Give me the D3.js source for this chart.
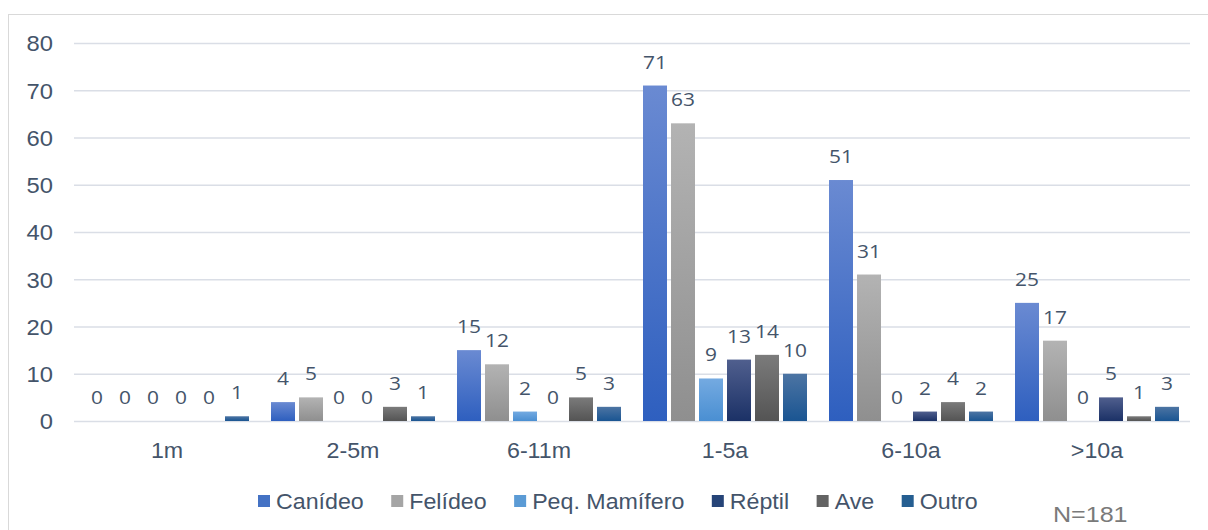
<!DOCTYPE html>
<html><head><meta charset="utf-8">
<script src="https://cdn.jsdelivr.net/npm/d3@7"></script>
<style>body{margin:0;background:#fff}svg{display:block}</style>
</head><body>
<script>
const categories = ["1m","2-5m","6-11m","1-5a","6-10a",">10a"];
const seriesNames = ["Canídeo","Felídeo","Peq. Mamífero","Réptil","Ave","Outro"];
const canideo = [0,4,15,71,51,25];
const felideo = [0,5,12,63,31,17];
const peqMamifero = [0,0,2,9,0,0];
const reptil = [0,0,0,13,2,5];
const ave = [0,3,5,14,4,1];
const outro = [1,1,3,10,2,3];
const seriesValues = [canideo,felideo,peqMamifero,reptil,ave,outro];
const yTicks = [0,10,20,30,40,50,60,70,80];
const solid = ["#4472c4","#a5a5a5","#5b9bd5","#264478","#636363","#255e91"];
const gradTop = ["#6a8ad2","#b3b3b3","#74aae1","#505f8e","#7b7b7b","#4c74a3"];
const gradBot = ["#2e5fbf","#8f8f8f","#4a8fd2","#1b3166","#545454","#1a5592"];

const W=1208,H=530;
const SX=1.08; // horizontal stretch of text seen in the reference
const svg=d3.select("body").append("svg").attr("width",W).attr("height",H);
const defs=svg.append("defs");
seriesNames.forEach((s,i)=>{
  const g=defs.append("linearGradient").attr("id","g"+i).attr("x1",0).attr("y1",0).attr("x2",0).attr("y2",1);
  g.append("stop").attr("offset","0%").attr("stop-color",gradTop[i]);
  g.append("stop").attr("offset","100%").attr("stop-color",gradBot[i]);
});
svg.append("rect").attr("x",8.5).attr("y",14.5).attr("width",1220).attr("height",540)
  .attr("fill","none").attr("stroke","#d9d9d9").attr("stroke-width",1);

const pLeft=74,pRight=1190,pTop=43,pBottom=421;
const y=d3.scaleLinear().domain([0,80]).range([pBottom,pTop]);
const x0=d3.scaleBand().domain(categories).range([pLeft,pRight]);
const x1=d3.scaleBand().domain(seriesNames).range([11,x0.bandwidth()-11]).paddingInner(1/7).paddingOuter(0);

const textCol="#44546a";
const sansFont="Liberation Sans, Arial, sans-serif";
const yAxis=d3.axisLeft(y).tickValues(yTicks).tickSize(-(pRight-pLeft)).tickPadding(0);
const ga=svg.append("g").attr("transform",`translate(${pLeft},0)`).call(yAxis);
ga.select(".domain").remove();
ga.selectAll(".tick line").attr("stroke","#dadee6").attr("stroke-width",1.5);
ga.selectAll(".tick text").attr("x",0).attr("dy","0.36em")
  .attr("transform",`translate(-21,0) scale(${SX},1)`)
  .attr("fill",textCol).attr("font-family",sansFont).attr("font-size",22);

const xAxis=d3.axisBottom(x0).tickSize(0).tickPadding(0);
const gx=svg.append("g").attr("transform",`translate(0,${pBottom})`).call(xAxis);
gx.select(".domain").remove();
gx.selectAll(".tick text").attr("y",0).attr("dy",0)
  .attr("transform",`translate(0,37) scale(${SX},1)`)
  .attr("fill",textCol).attr("font-family",sansFont).attr("font-size",21.5);

const groups=svg.append("g").selectAll("g").data(categories).join("g")
  .attr("transform",d=>`translate(${x0(d)},0)`);
seriesNames.forEach((s,i)=>{
  groups.append("rect")
    .attr("x",x1(s)).attr("width",x1.bandwidth())
    .attr("y",(d,j)=>y(seriesValues[i][j]))
    .attr("height",(d,j)=>pBottom-y(seriesValues[i][j]))
    .attr("fill",`url(#g${i})`);
  groups.append("text")
    .attr("transform",(d,j)=>`translate(${x1(s)+x1.bandwidth()/2},${y(seriesValues[i][j])-17}) scale(1.1,1)`)
    .attr("text-anchor","middle")
    .attr("fill",textCol)
    .attr("font-family","Open Sans, sans-serif")
    .attr("font-size",19)
    .text((d,j)=>seriesValues[i][j]);
});

// legend, laid out from measured text widths
const lg=svg.append("g");
let lx=258;
seriesNames.forEach((s,i)=>{
  lg.append("rect").attr("x",lx).attr("y",495).attr("width",12).attr("height",12).attr("fill",solid[i]);
  const t=lg.append("text").attr("transform",`translate(${lx+18},509) scale(${SX},1)`).attr("fill",textCol)
    .attr("font-family",sansFont).attr("font-size",21.5).text(s);
  lx += 18 + t.node().getComputedTextLength()*SX + 27.5;
});
svg.append("text").attr("transform",`translate(1053,522) scale(1.14,1)`).attr("fill","#7a7a7a")
  .attr("font-family",sansFont).attr("font-size",22).text("N=181");
</script>
</body></html>
